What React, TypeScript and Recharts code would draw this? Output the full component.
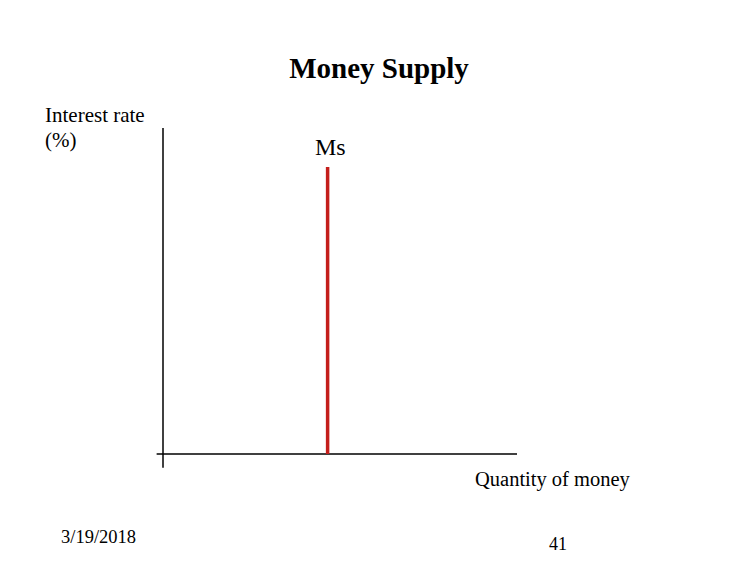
import React from 'react';
import { LineChart, Line, XAxis, YAxis, ReferenceLine } from 'recharts';

const moneySupplyQuantity = [46.5, 46.5];
const interestRates = [0, 8.8];
const msData = moneySupplyQuantity.map((q, i) => ({ q, r: interestRates[i] }));

const title = 'Money Supply';
const yLabelLines = ['Interest rate', '(%)'];
const xLabel = 'Quantity of money';
const seriesLabel = 'Ms';
const dateText = '3/19/2018';
const pageNumber = '41';

const serif = '"Liberation Serif", "Times New Roman", Times, serif';

export default function App() {
  return (
    <div style={{ position: 'absolute', left: 0, top: 0, width: 756, height: 576, background: '#fff' }}>
      <LineChart
        width={756}
        height={576}
        data={msData}
        margin={{ top: 128, right: 239, bottom: 122, left: 163 }}
      >
        <XAxis type="number" dataKey="q" domain={[0, 100]} hide />
        <YAxis type="number" domain={[0, 10]} hide />
        <ReferenceLine
          segment={[{ x: 0, y: -0.42 }, { x: 0, y: 10 }]}
          stroke="#000"
          strokeWidth={1.5}
          ifOverflow="visible"
        />
        <ReferenceLine
          segment={[{ x: -1.8, y: 0 }, { x: 100, y: 0 }]}
          stroke="#000"
          strokeWidth={1.5}
          ifOverflow="visible"
        />
        <Line
          dataKey="r"
          stroke="#c41f1c"
          strokeWidth={3.5}
          dot={false}
          isAnimationActive={false}
        />
      </LineChart>
      <svg width={756} height={576} style={{ position: 'absolute', left: 0, top: 0, pointerEvents: 'none' }}>
        <text x={379} y={78} textAnchor="middle" fontFamily={serif} fontWeight="bold" fontSize={29} fill="#000">
          {title}
        </text>
        <text x={45} y={122} fontFamily={serif} fontSize={21} fill="#000">{yLabelLines[0]}</text>
        <text x={45} y={147} fontFamily={serif} fontSize={21} fill="#000">{yLabelLines[1]}</text>
        <text x={315} y={155} fontFamily={serif} fontSize={24} fill="#000">{seriesLabel}</text>
        <text x={475} y={486} fontFamily={serif} fontSize={20.5} fill="#000">{xLabel}</text>
        <text x={61} y={543} fontFamily={serif} fontSize={18.5} fill="#000">{dateText}</text>
        <text x={549} y={550} fontFamily={serif} fontSize={18} fill="#000">{pageNumber}</text>
      </svg>
    </div>
  );
}
